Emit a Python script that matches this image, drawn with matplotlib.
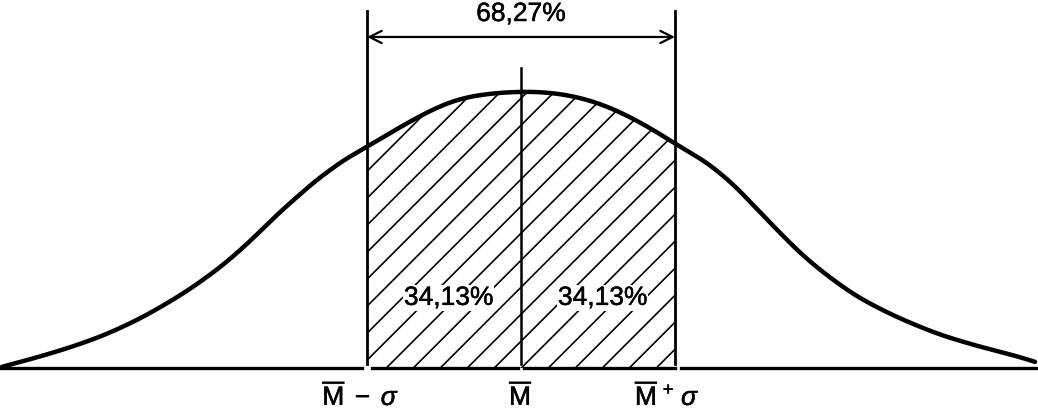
import numpy as np
import matplotlib
matplotlib.use('Agg')
import matplotlib.pyplot as plt
import matplotlib.patheffects as pe
from matplotlib.patches import Polygon

plt.rcParams['font.family'] = ['Liberation Sans', 'DejaVu Sans']
plt.rcParams['mathtext.fontset'] = 'custom'
plt.rcParams['mathtext.rm'] = 'Liberation Sans'
plt.rcParams['mathtext.it'] = 'Liberation Sans:italic'

# curve: x in sigma units from the mean, y relative to peak
curve_x = [-3.370, -3.169, -2.948, -2.734, -2.604, -2.494, -2.390, -2.279, -2.169,
           -2.065, -1.955, -1.844, -1.740, -1.675, -1.565, -1.455, -1.351, -1.240,
           -1.130, -1.000, -0.786, -0.526, -0.312, 0.000, 0.234, 0.448, 0.662,
           0.883, 1.013, 1.182, 1.292, 1.403, 1.506, 1.617, 1.727, 1.831, 1.961,
           2.136, 2.247, 2.351, 2.461, 2.571, 2.675, 2.766, 2.981, 3.195, 3.338]
curve_y = [0.004, 0.034, 0.070, 0.112, 0.144, 0.173, 0.204, 0.240, 0.278,
           0.318, 0.363, 0.415, 0.468, 0.504, 0.563, 0.617, 0.668, 0.715,
           0.758, 0.798, 0.870, 0.949, 0.986, 1.000, 0.993, 0.968, 0.921,
           0.852, 0.805, 0.751, 0.704, 0.650, 0.588, 0.525, 0.462, 0.406, 0.345,
           0.274, 0.238, 0.208, 0.179, 0.153, 0.130, 0.112, 0.076, 0.047, 0.022]

band_edges = [-1.0, 1.0]
total_label = '68,27%'
half_labels = ['34,13%', '34,13%']
tick_labels = [r'$\overline{\mathrm{M}}\;-\;\sigma$', r'$\overline{\mathrm{M}}$',
               r'$\overline{\mathrm{M}}^{\,+}\,\sigma$']

fig = plt.figure(figsize=(10.38, 4.12), dpi=100)
ax = fig.add_axes([0, 0, 1, 1])
ax.set_xlim(-3.383, 3.357)
ax.set_ylim(-0.159, 1.3285)
ax.axis('off')

# render the read points as a clamped cubic b-spline so the hand-drawn line stays smooth
pts = np.column_stack([curve_x, curve_y])
pts = np.vstack([pts[:1], pts[:1], pts, pts[-1:], pts[-1:]])
t = np.linspace(0, 1, 16)[:, None]
dense = []
for i in range(1, len(pts) - 2):
    p0, p1, p2, p3 = pts[i - 1], pts[i], pts[i + 1], pts[i + 2]
    dense.append(((1 - t) ** 3 * p0 + (3 * t ** 3 - 6 * t ** 2 + 4) * p1
                  + (-3 * t ** 3 + 3 * t ** 2 + 3 * t + 1) * p2 + t ** 3 * p3) / 6)
dense = np.vstack(dense)
sx, sy = dense[:, 0], dense[:, 1]

# shaded band under the curve, hatched with 45 degree lines
lo, hi = band_edges
inside = (sx > lo) & (sx < hi)
poly_x = np.concatenate([[lo, lo], sx[inside], [hi, hi]])
poly_y = np.concatenate([[0, np.interp(lo, sx, sy)], sy[inside], [np.interp(hi, sx, sy), 0]])
clip = Polygon(np.column_stack([poly_x, poly_y]), closed=True, facecolor='none', edgecolor='none')
ax.add_patch(clip)
slope = 154 / 277  # 45 degrees on screen
span = 1.1 / slope
step = 27 / 154
for x0 in np.arange(lo - span, hi + step, step):
    xs = np.array([x0, x0 + span])
    ln, = ax.plot(xs, (xs - x0) * slope, color='black', lw=1.2, zorder=1)
    ln.set_clip_path(clip)

ax.plot(sx, sy, color='black', lw=3.2, solid_capstyle='round', zorder=3)

# baseline with small breaks at the vertical lines
for a, b in [(-3.383, -1.03), (-0.97, -0.02), (0.02, 1.0), (1.04, 3.357)]:
    ax.plot([a, b], [0, 0], color='black', lw=2.4, zorder=3)

ax.plot([lo, lo], [0.015, 1.29], color='black', lw=2.0, zorder=3)
ax.plot([hi, hi], [0.015, 1.29], color='black', lw=2.0, zorder=3)
ax.plot([0, 0], [0.015, 1.083], color='black', lw=1.8, zorder=3)

ax.annotate('', xy=(lo, 1.195), xytext=(hi, 1.195),
            arrowprops=dict(arrowstyle='<->', lw=1.6, color='black',
                            mutation_scale=22, shrinkA=0, shrinkB=0))

# slightly heavier glyphs, like the scanned print
heavy = [pe.withStroke(linewidth=0.35, foreground='black')]
ax.text(0.0, 1.278, total_label, ha='center', va='center', fontsize=19, path_effects=heavy)

for xpos, lab in zip([-0.47, 0.53], half_labels):
    ax.text(xpos, 0.253, lab, ha='center', va='center', fontsize=19, zorder=4,
            path_effects=heavy, bbox=dict(facecolor='white', edgecolor='none', pad=0.5))

for xpos, lab in zip([-1.04, 0.0, 0.95], tick_labels):
    ax.text(xpos, -0.1, lab, ha='center', va='center', fontsize=19, path_effects=heavy)

fig.savefig('out.png', dpi=100)
